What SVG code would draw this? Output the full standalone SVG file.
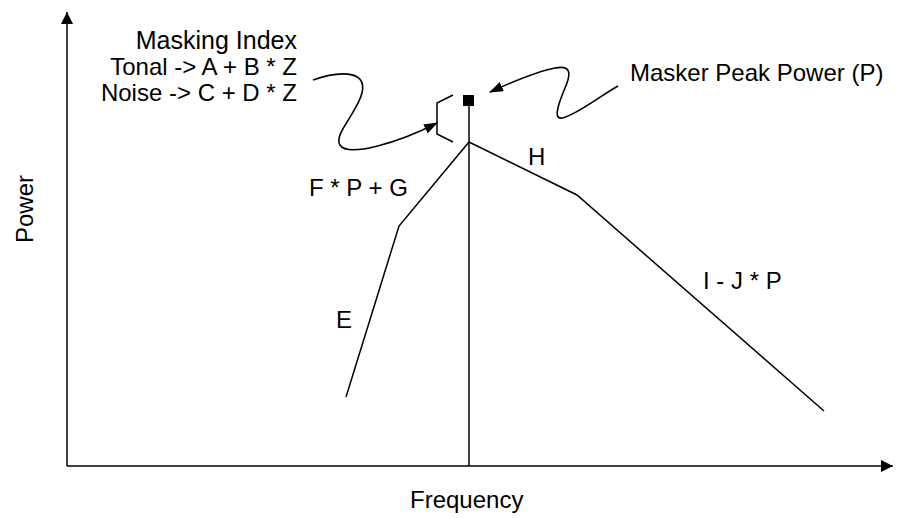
<svg xmlns="http://www.w3.org/2000/svg" width="907" height="518" viewBox="0 0 907 518">
<style>
text{font-family:"Liberation Sans",Arial,sans-serif;font-size:24px;fill:#000}
.ln{fill:none;stroke:#000;stroke-width:1.5}
.cv{fill:none;stroke:#000;stroke-width:1.6}
</style>
<defs>
<marker id="ax" markerWidth="12" markerHeight="12" refX="10" refY="5" orient="auto" markerUnits="userSpaceOnUse" viewBox="0 0 10 10"><path d="M0,0 L10,5 L0,10 z" fill="#000"/></marker>
<marker id="ah" markerWidth="14" markerHeight="10" refX="13" refY="5" orient="auto" markerUnits="userSpaceOnUse" viewBox="0 0 14 10"><path d="M0,0 L14,5 L0,10 z" fill="#000"/></marker>
</defs>
<rect width="907" height="518" fill="#fff"/>
<g id="axes">
<line class="ln" x1="67" y1="466" x2="67" y2="12" marker-end="url(#ax)"/>
<line class="ln" x1="67" y1="466" x2="893" y2="466" marker-end="url(#ax)"/>
<text x="33" y="243" transform="rotate(-90 33 243)">Power</text>
<text x="410" y="508">Frequency</text>
</g>
<g id="peak">
<line class="ln" x1="469" y1="106" x2="469" y2="466"/>
<rect x="463" y="95" width="11" height="11" fill="#000"/>
</g>
<g id="spread">
<polyline class="ln" points="346,397 399,226 469,142 577,195 824,411"/>
<text x="309" y="196">F * P + G</text>
<text x="336" y="328">E</text>
<text x="528" y="165">H</text>
<text x="703" y="289">I - J * P</text>
</g>
<g id="bracket">
<polyline class="ln" points="453,95 437,103 437,134 453,142"/>
</g>
<g id="masking-index">
<text x="297" y="49" text-anchor="end" style="font-size:25px">Masking Index</text>
<text x="297" y="75" text-anchor="end">Tonal -&gt; A + B * Z</text>
<text x="297" y="101" text-anchor="end">Noise -&gt; C + D * Z</text>
</g>
<g id="masker-peak">
<text x="630" y="81">Masker Peak Power (P)</text>
</g>
<g id="connectors">
<path class="cv" d="M313,80 C335,72 368,68 362,93 C357,113 333,135 340,145 C348,158 400,142 437,123" marker-end="url(#ah)"/>
<path class="cv" d="M618,86 C600,96 575,116 562,118 C552,120 560,100 565,88 C572,72 570,65 555,68 C535,72 512,82 490,92" marker-end="url(#ah)"/>
</g>
</svg>
